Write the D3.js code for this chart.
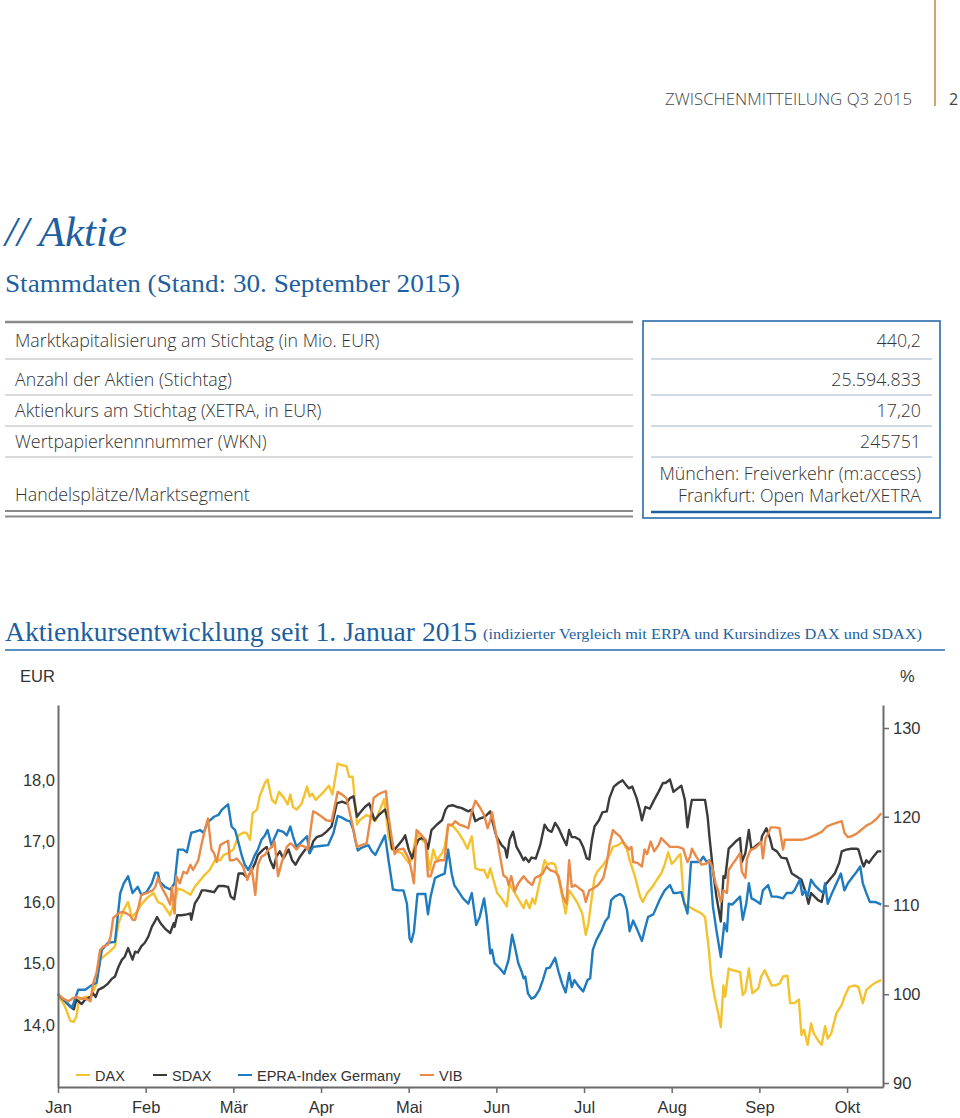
<!DOCTYPE html>
<html><head><meta charset="utf-8">
<script src="https://cdn.jsdelivr.net/npm/d3@7"></script>
<style>
html,body{margin:0;padding:0;background:#fff;}
svg{display:block;}
</style></head>
<body>
<svg id="c" width="960" height="1118"></svg>
<script>
// ---------- DATA ----------
const headerText = "ZWISCHENMITTEILUNG Q3 2015";
const pageNumber = "2";
const tableLabels = ["Marktkapitalisierung am Stichtag (in Mio. EUR)","Anzahl der Aktien (Stichtag)","Aktienkurs am Stichtag (XETRA, in EUR)","Wertpapierkennnummer (WKN)","Handelsplätze/Marktsegment"];
const tableValues = [["440,2"],["25.594.833"],["17,20"],["245751"],["München: Freiverkehr (m:access)","Frankfurt: Open Market/XETRA"]];
const months = ["Jan","Feb","Mär","Apr","Mai","Jun","Jul","Aug","Sep","Okt"];
const eurTicks = [14,15,16,17,18];
const pctTicks = [90,100,110,120,130];
const vibBaseEUR = 14.5;         // VIB price on 1 Jan 2015 (=100 %)
const xEnd = 9.41;               // last month position shown
const seriesNames = ["DAX","SDAX","EPRA-Index Germany","VIB"];

// [month position, indexed value %]
const daxData = [[0,100],[0.08,98.6],[0.14,97.0],[0.18,96.9],[0.21,97.5],[0.24,99.4],[0.31,99.7],[0.37,99.7],[0.41,100.5],[0.44,101.2],[0.48,103.9],[0.54,104.4],[0.59,104.8],[0.65,105.4],[0.69,108.0],[0.75,109.5],[0.80,110.4],[0.84,108.7],[0.90,109.3],[0.95,110.1],[1.01,110.8],[1.09,111.4],[1.14,110.4],[1.20,110.1],[1.28,108.9],[1.33,110.6],[1.37,111.9],[1.43,111.7],[1.51,111.2],[1.56,112.1],[1.66,113.3],[1.73,114.0],[1.79,115.1],[1.85,115.1],[1.89,115.7],[1.94,115.9],[2.00,116.3],[2.06,117.9],[2.11,118.2],[2.15,118.2],[2.19,117.4],[2.22,120.4],[2.27,120.8],[2.30,122.3],[2.36,123.8],[2.39,124.2],[2.44,121.9],[2.48,121.5],[2.52,122.8],[2.58,122.1],[2.62,121.4],[2.65,122.5],[2.68,121.1],[2.72,120.8],[2.78,121.5],[2.84,123.4],[2.87,122.3],[2.90,122.6],[2.94,121.9],[3.03,122.8],[3.09,123.5],[3.13,122.5],[3.19,126.0],[3.24,125.8],[3.29,125.7],[3.32,124.5],[3.36,124.5],[3.38,122.6],[3.41,119.1],[3.44,119.6],[3.52,120.2],[3.56,120.0],[3.62,119.5],[3.72,122.0],[3.77,117.8],[3.81,116.3],[3.92,115.9],[4.00,114.8],[4.03,115.1],[4.09,118.1],[4.15,117.4],[4.20,117.0],[4.24,114.0],[4.28,116.3],[4.32,115.1],[4.38,115.9],[4.41,116.6],[4.45,119.1],[4.51,118.9],[4.56,118.3],[4.62,117.4],[4.67,116.4],[4.72,117.8],[4.76,114.2],[4.81,114.0],[4.86,114.0],[4.90,113.1],[4.93,114.2],[4.96,113.1],[5.01,111.4],[5.06,110.8],[5.12,109.9],[5.15,112.5],[5.21,111.4],[5.27,110.4],[5.31,109.7],[5.34,110.6],[5.38,109.7],[5.41,110.8],[5.44,110.2],[5.50,112.9],[5.55,115.1],[5.58,114.6],[5.63,114.8],[5.67,114.6],[5.72,112.5],[5.76,110.6],[5.79,109.1],[5.83,111.7],[5.88,111.0],[5.93,110.2],[5.98,109.1],[6.02,106.7],[6.05,108.0],[6.09,111.0],[6.12,113.1],[6.15,113.8],[6.22,114.6],[6.28,115.5],[6.33,116.6],[6.39,116.8],[6.44,117.2],[6.49,116.3],[6.52,115.1],[6.58,113.3],[6.64,111.0],[6.67,110.4],[6.72,111.4],[6.78,112.1],[6.83,112.9],[6.88,113.6],[6.92,114.6],[6.96,116.0],[7.00,114.7],[7.04,115.1],[7.07,115.5],[7.10,115.8],[7.14,110.2],[7.19,109.9],[7.26,109.5],[7.34,109.1],[7.38,108.7],[7.42,105.4],[7.45,102.0],[7.49,99.7],[7.53,97.9],[7.56,96.3],[7.59,101.0],[7.61,99.7],[7.65,102.9],[7.70,102.7],[7.78,102.5],[7.81,99.9],[7.84,100.3],[7.88,102.9],[7.92,100.1],[7.99,100.7],[8.02,102.0],[8.06,102.7],[8.14,101.0],[8.18,101.0],[8.23,101.2],[8.27,102.0],[8.32,102.1],[8.35,99.0],[8.40,99.0],[8.45,99.4],[8.48,95.4],[8.51,96.0],[8.55,94.3],[8.59,96.7],[8.62,95.6],[8.67,94.8],[8.71,94.3],[8.75,96.4],[8.78,95.0],[8.82,95.6],[8.88,97.9],[8.94,98.8],[8.97,99.7],[9.02,100.8],[9.09,101.0],[9.13,100.8],[9.18,99.0],[9.22,100.5],[9.28,101.0],[9.34,101.4],[9.39,101.6]];

const sdaxData = [[0,100],[0.14,98.6],[0.18,98.3],[0.21,99.4],[0.27,98.9],[0.31,99.4],[0.37,99.7],[0.40,100.1],[0.43,99.7],[0.46,100.5],[0.52,100.8],[0.57,101.2],[0.61,101.7],[0.65,102.0],[0.69,103.1],[0.73,103.9],[0.76,104.2],[0.80,105.2],[0.83,104.4],[0.85,103.9],[0.88,104.8],[0.91,104.7],[0.95,105.4],[0.99,105.8],[1.03,106.5],[1.07,107.6],[1.11,108.3],[1.13,108.7],[1.17,108.0],[1.22,107.4],[1.28,106.9],[1.32,108.0],[1.33,107.6],[1.36,108.9],[1.41,108.9],[1.47,109.0],[1.51,109.1],[1.52,108.4],[1.56,110.2],[1.61,111.0],[1.64,111.7],[1.68,111.7],[1.73,111.6],[1.78,111.5],[1.83,112.2],[1.89,112.2],[1.94,112.1],[1.97,111.0],[2.01,110.7],[2.06,113.6],[2.11,113.6],[2.16,113.1],[2.21,114.0],[2.25,114.8],[2.28,115.7],[2.34,116.3],[2.38,116.6],[2.42,115.1],[2.46,114.2],[2.49,115.5],[2.53,116.1],[2.57,115.3],[2.63,116.3],[2.67,115.1],[2.71,114.6],[2.76,115.5],[2.82,116.3],[2.85,116.6],[2.87,115.9],[2.91,117.2],[2.95,117.7],[3.01,117.9],[3.06,118.3],[3.12,118.9],[3.18,121.5],[3.24,121.7],[3.29,121.5],[3.33,122.1],[3.37,122.3],[3.41,120.0],[3.44,120.4],[3.50,121.1],[3.55,121.5],[3.61,119.6],[3.66,120.2],[3.73,120.8],[3.77,119.5],[3.81,116.4],[3.84,116.3],[3.88,116.8],[3.93,117.4],[3.96,117.9],[4.00,116.3],[4.04,115.3],[4.07,116.4],[4.11,117.4],[4.15,117.6],[4.19,117.4],[4.22,116.4],[4.26,118.5],[4.32,119.1],[4.38,119.6],[4.42,120.8],[4.45,121.2],[4.50,121.3],[4.55,121.1],[4.60,121.0],[4.64,120.8],[4.68,120.6],[4.72,120.8],[4.76,119.5],[4.81,119.8],[4.87,120.0],[4.93,120.6],[4.96,119.3],[5.00,117.8],[5.06,116.8],[5.10,116.4],[5.12,115.4],[5.15,117.4],[5.19,118.3],[5.23,116.6],[5.27,115.9],[5.31,115.1],[5.33,115.4],[5.37,114.9],[5.40,115.4],[5.45,115.3],[5.50,116.8],[5.55,119.1],[5.59,118.5],[5.63,118.3],[5.67,119.3],[5.71,118.7],[5.76,117.6],[5.80,116.8],[5.83,118.5],[5.86,117.7],[5.90,117.7],[5.95,117.4],[5.99,116.6],[6.03,115.3],[6.06,115.2],[6.09,117.4],[6.12,118.9],[6.17,119.6],[6.21,120.5],[6.26,120.6],[6.29,122.1],[6.34,123.4],[6.39,123.8],[6.44,124.1],[6.47,123.7],[6.51,123.2],[6.55,123.4],[6.60,122.1],[6.64,120.6],[6.66,119.6],[6.70,121.1],[6.75,120.9],[6.80,121.9],[6.85,122.8],[6.90,123.8],[6.93,123.8],[6.98,124.2],[7.02,122.8],[7.07,123.2],[7.11,123.5],[7.15,121.9],[7.18,118.8],[7.21,120.8],[7.23,121.9],[7.28,121.9],[7.38,121.9],[7.41,120.0],[7.43,117.8],[7.47,114.0],[7.51,111.0],[7.56,108.2],[7.59,113.3],[7.61,113.1],[7.65,116.4],[7.69,116.8],[7.74,117.3],[7.78,117.6],[7.80,114.9],[7.84,115.9],[7.88,118.5],[7.91,116.3],[7.97,116.8],[8.02,117.2],[8.03,117.8],[8.08,118.7],[8.12,117.6],[8.15,116.4],[8.20,116.1],[8.25,115.4],[8.31,115.3],[8.37,113.6],[8.42,113.3],[8.48,112.9],[8.53,111.4],[8.56,110.2],[8.59,111.4],[8.63,111.0],[8.67,110.6],[8.71,110.4],[8.75,112.3],[8.80,112.9],[8.86,113.6],[8.91,114.8],[8.94,116.1],[8.99,116.3],[9.05,116.4],[9.11,116.4],[9.13,116.3],[9.17,114.9],[9.19,114.4],[9.22,115.1],[9.25,114.8],[9.30,115.5],[9.35,116.1],[9.39,116.1]];

const epraData = [[0,100],[0.16,98.5],[0.23,100.5],[0.31,100.5],[0.38,101.0],[0.44,101.3],[0.50,105.0],[0.57,105.8],[0.65,105.9],[0.71,111.4],[0.75,112.5],[0.80,113.3],[0.85,111.4],[0.91,112.1],[0.95,111.2],[1.01,111.5],[1.07,112.5],[1.11,113.7],[1.14,113.7],[1.16,112.7],[1.22,112.1],[1.28,111.8],[1.33,112.5],[1.37,116.3],[1.43,116.3],[1.47,116.0],[1.52,118.2],[1.56,118.3],[1.62,118.5],[1.66,118.2],[1.71,119.4],[1.78,120.0],[1.83,120.2],[1.87,120.8],[1.94,121.4],[1.98,118.9],[2.02,118.5],[2.05,117.4],[2.10,115.5],[2.13,114.6],[2.17,114.0],[2.21,114.8],[2.24,115.6],[2.28,116.3],[2.32,117.4],[2.36,117.9],[2.39,118.5],[2.44,116.6],[2.46,117.4],[2.51,118.5],[2.57,118.3],[2.61,117.9],[2.65,118.9],[2.68,117.8],[2.72,116.6],[2.78,117.2],[2.84,117.8],[2.87,115.9],[2.91,116.6],[2.99,116.7],[3.08,116.8],[3.14,118.1],[3.19,120.1],[3.24,119.9],[3.29,119.6],[3.33,119.5],[3.37,118.5],[3.39,117.4],[3.42,116.2],[3.46,116.5],[3.54,116.8],[3.58,116.1],[3.62,115.7],[3.65,116.3],[3.73,117.9],[3.77,115.1],[3.81,112.5],[3.82,111.8],[3.88,111.7],[3.94,111.7],[3.98,110.2],[4.01,106.3],[4.03,105.9],[4.06,107.1],[4.10,111.3],[4.15,111.3],[4.19,111.3],[4.22,109.0],[4.25,111.0],[4.30,113.1],[4.36,113.4],[4.41,113.6],[4.45,116.3],[4.49,113.6],[4.52,112.3],[4.56,111.7],[4.62,110.8],[4.68,110.2],[4.72,111.4],[4.77,107.8],[4.81,108.7],[4.86,110.8],[4.89,108.7],[4.93,104.6],[4.95,105.0],[4.98,103.5],[5.04,102.9],[5.09,102.3],[5.14,103.9],[5.18,106.7],[5.21,105.4],[5.25,103.5],[5.29,102.5],[5.31,101.8],[5.33,102.0],[5.36,100.1],[5.40,99.5],[5.44,99.7],[5.49,100.5],[5.53,101.6],[5.57,102.9],[5.61,103.0],[5.67,104.1],[5.71,102.5],[5.75,101.2],[5.79,100.2],[5.83,102.4],[5.86,100.8],[5.89,101.6],[5.93,101.0],[5.99,100.3],[6.04,101.6],[6.07,101.8],[6.10,105.0],[6.14,106.1],[6.20,107.2],[6.24,108.2],[6.28,108.7],[6.31,110.6],[6.35,111.0],[6.41,111.3],[6.45,111.0],[6.49,109.5],[6.52,107.1],[6.56,108.3],[6.61,107.2],[6.66,106.0],[6.69,107.2],[6.73,108.7],[6.79,109.0],[6.83,109.9],[6.86,110.6],[6.92,111.7],[6.98,112.3],[7.02,111.4],[7.05,111.4],[7.11,111.5],[7.14,110.4],[7.18,109.1],[7.22,114.9],[7.26,114.9],[7.32,114.9],[7.36,115.5],[7.40,114.9],[7.43,115.1],[7.47,109.9],[7.51,107.2],[7.56,104.2],[7.60,108.0],[7.63,107.1],[7.65,110.2],[7.69,110.1],[7.74,110.6],[7.78,111.0],[7.81,108.4],[7.85,110.2],[7.88,112.5],[7.91,110.8],[7.95,110.6],[8.01,110.2],[8.04,111.7],[8.10,112.3],[8.14,111.0],[8.20,111.0],[8.27,110.8],[8.31,111.4],[8.37,111.4],[8.40,111.7],[8.46,112.9],[8.49,111.2],[8.52,111.7],[8.55,111.0],[8.59,112.9],[8.63,112.3],[8.69,111.7],[8.73,111.4],[8.75,112.5],[8.78,110.2],[8.82,111.2],[8.88,112.5],[8.93,113.6],[8.97,111.7],[9.01,112.5],[9.07,113.3],[9.11,113.8],[9.15,114.4],[9.18,112.5],[9.22,111.4],[9.26,110.4],[9.32,110.4],[9.39,110.1]];

const vibData = [[0,100],[0.06,99.5],[0.12,99.2],[0.16,99.5],[0.21,99.7],[0.27,99.5],[0.33,99.5],[0.37,99.2],[0.40,101.2],[0.44,102.4],[0.48,105.0],[0.52,105.4],[0.57,105.6],[0.60,106.5],[0.63,108.6],[0.69,109.1],[0.73,109.3],[0.78,109.1],[0.82,108.9],[0.85,108.4],[0.88,108.4],[0.92,109.9],[0.95,111.2],[1.01,111.4],[1.08,111.7],[1.11,112.1],[1.14,113.1],[1.18,112.1],[1.24,111.0],[1.28,110.1],[1.30,112.1],[1.33,109.1],[1.35,113.3],[1.39,112.5],[1.43,113.8],[1.47,113.6],[1.51,114.6],[1.54,114.0],[1.60,115.1],[1.64,117.0],[1.68,118.7],[1.71,119.8],[1.75,116.3],[1.78,115.9],[1.81,114.9],[1.85,116.8],[1.90,117.1],[1.94,117.3],[1.96,115.1],[2.00,115.1],[2.04,115.3],[2.08,114.8],[2.11,114.4],[2.16,112.9],[2.21,114.2],[2.25,111.2],[2.28,114.6],[2.32,115.5],[2.36,115.7],[2.40,116.3],[2.44,116.6],[2.47,117.2],[2.51,113.3],[2.55,114.8],[2.61,116.6],[2.65,117.0],[2.68,116.8],[2.72,116.3],[2.76,116.8],[2.82,116.6],[2.85,116.3],[2.91,120.6],[2.95,120.4],[3.01,120.0],[3.06,119.6],[3.12,119.5],[3.19,122.8],[3.24,122.5],[3.29,122.1],[3.35,119.5],[3.41,116.6],[3.46,116.8],[3.52,117.0],[3.56,119.5],[3.60,122.1],[3.65,122.5],[3.69,122.7],[3.74,122.9],[3.77,120.0],[3.81,117.4],[3.84,115.8],[3.88,116.3],[3.94,116.4],[4.00,115.3],[4.03,114.0],[4.06,112.5],[4.09,118.5],[4.15,117.9],[4.19,117.4],[4.22,113.3],[4.25,113.3],[4.30,114.9],[4.36,115.1],[4.41,115.1],[4.45,119.1],[4.50,119.1],[4.53,119.5],[4.58,119.1],[4.64,118.9],[4.68,118.7],[4.72,120.6],[4.76,121.8],[4.81,121.1],[4.86,120.2],[4.90,118.7],[4.93,119.6],[4.95,120.5],[4.98,118.9],[5.02,116.8],[5.08,113.4],[5.12,113.1],[5.14,112.3],[5.17,113.3],[5.21,111.6],[5.25,112.5],[5.31,113.3],[5.36,112.7],[5.41,112.3],[5.44,113.1],[5.50,113.4],[5.53,113.6],[5.57,114.4],[5.61,114.0],[5.67,113.8],[5.71,113.3],[5.76,111.0],[5.80,110.2],[5.83,115.1],[5.86,112.1],[5.90,112.3],[5.95,111.9],[5.99,111.6],[6.02,110.4],[6.06,111.7],[6.10,111.9],[6.16,112.3],[6.22,113.1],[6.26,114.8],[6.29,116.8],[6.33,118.5],[6.37,118.1],[6.41,117.8],[6.45,117.1],[6.49,116.6],[6.51,116.3],[6.54,116.6],[6.56,114.9],[6.61,114.8],[6.66,114.4],[6.69,116.3],[6.72,115.8],[6.76,117.2],[6.80,116.1],[6.85,116.8],[6.88,117.6],[6.92,117.2],[6.98,116.6],[7.02,116.6],[7.07,116.6],[7.13,116.4],[7.18,114.9],[7.21,115.5],[7.23,116.4],[7.28,115.5],[7.34,114.6],[7.39,114.7],[7.43,115.1],[7.46,114.4],[7.50,112.5],[7.53,111.7],[7.56,110.4],[7.59,111.7],[7.63,111.4],[7.65,114.0],[7.69,114.6],[7.74,115.3],[7.78,115.9],[7.80,113.8],[7.84,113.1],[7.86,115.3],[7.90,116.3],[7.94,116.4],[7.99,116.8],[8.02,117.2],[8.04,115.3],[8.07,117.6],[8.10,118.1],[8.13,118.8],[8.18,118.8],[8.23,118.7],[8.27,116.3],[8.29,117.4],[8.40,117.4],[8.48,117.4],[8.56,117.6],[8.63,117.9],[8.71,118.3],[8.77,118.9],[8.82,119.1],[8.88,119.3],[8.94,119.5],[8.97,118.2],[9.01,117.7],[9.05,117.8],[9.11,118.1],[9.16,118.5],[9.22,119.0],[9.28,119.3],[9.34,119.8],[9.39,120.4]];

// ---------- STYLE ----------
const BLUE = "#1d5fa0";
const TXT = "#333";
const colors = {"DAX":"#f4c22f","SDAX":"#3b3b3b","EPRA-Index Germany":"#1f7bbf","VIB":"#e98a49"};
const sans = "'Open Sans','Noto Sans',sans-serif";
const chartFont = "'Liberation Sans',Arial,sans-serif";
const serif = "'Liberation Serif','Times New Roman',serif";

const svg = d3.select("#c");

// header
svg.append("line").attr("x1",935).attr("x2",935).attr("y1",0).attr("y2",106)
  .attr("stroke","#d9a36c").attr("stroke-width",2);
svg.append("text").attr("x",912).attr("y",105).attr("text-anchor","end")
  .attr("font-family",sans).attr("font-weight",300).attr("font-size",16).attr("fill","#444")
  .attr("textLength",247).attr("lengthAdjust","spacingAndGlyphs").text(headerText);
svg.append("text").attr("x",949).attr("y",105).attr("font-family",sans).attr("font-size",16)
  .attr("fill","#444").text(pageNumber);

// titles
svg.append("text").attr("x",5).attr("y",246).attr("font-family",serif).attr("font-style","italic")
  .attr("font-size",42).attr("fill",BLUE).attr("textLength",122).attr("lengthAdjust","spacingAndGlyphs").text("// Aktie");
svg.append("text").attr("x",5).attr("y",292).attr("font-family",serif).attr("font-size",26)
  .attr("fill",BLUE).attr("textLength",455).attr("lengthAdjust","spacingAndGlyphs").text("Stammdaten (Stand: 30. September 2015)");

// table
const rowSeps = [359,395,426,457];
svg.append("line").attr("x1",5).attr("x2",633).attr("y1",322).attr("y2",322).attr("stroke","#8a8a8a").attr("stroke-width",2.5);
rowSeps.forEach(yy=>{
  svg.append("line").attr("x1",5).attr("x2",633).attr("y1",yy).attr("y2",yy).attr("stroke","#b5b5b5").attr("stroke-width",1.2);
  svg.append("line").attr("x1",651).attr("x2",932).attr("y1",yy).attr("y2",yy).attr("stroke","#9db5cc").attr("stroke-width",1.2);
});
svg.append("line").attr("x1",5).attr("x2",633).attr("y1",511).attr("y2",511).attr("stroke","#8a8a8a").attr("stroke-width",1.8);
svg.append("line").attr("x1",5).attr("x2",633).attr("y1",516.5).attr("y2",516.5).attr("stroke","#8a8a8a").attr("stroke-width",1.8);
svg.append("rect").attr("x",643).attr("y",321).attr("width",297).attr("height",197)
  .attr("fill","none").attr("stroke","#2a6aab").attr("stroke-width",1.6);
svg.append("line").attr("x1",651).attr("x2",932).attr("y1",512).attr("y2",512).attr("stroke",BLUE).attr("stroke-width",2.5);

const rowBase = [347,386,417,448,501];
tableLabels.forEach((t,i)=>{
  svg.append("text").attr("x",15).attr("y",rowBase[i]).attr("font-family",sans).attr("font-weight",300)
    .attr("font-size",17.8).attr("fill",TXT).text(t);
});
tableValues.forEach((vals,i)=>{
  vals.forEach((v,j)=>{
    const yy = vals.length>1 ? [480,502][j] : rowBase[i];
    svg.append("text").attr("x",921).attr("y",yy).attr("text-anchor","end").attr("font-family",sans)
      .attr("font-weight",300).attr("font-size",17.8).attr("fill",TXT).text(v);
  });
});

// chart title
svg.append("text").attr("x",5).attr("y",641).attr("font-family",serif).attr("fill",BLUE)
  .attr("font-size",27).attr("textLength",472).attr("lengthAdjust","spacingAndGlyphs").text("Aktienkursentwicklung seit 1. Januar 2015");
svg.append("text").attr("x",483).attr("y",639).attr("font-family",serif).attr("fill",BLUE).attr("font-size",15)
  .attr("textLength",439).attr("lengthAdjust","spacingAndGlyphs").text("(indizierter Vergleich mit ERPA und Kursindizes DAX und SDAX)");
svg.append("line").attr("x1",5).attr("x2",945).attr("y1",650).attr("y2",650).attr("stroke","#2a6aab").attr("stroke-width",1.6);

svg.append("text").attr("x",20).attr("y",682).attr("font-family",chartFont).attr("font-size",16.5).attr("fill",TXT).text("EUR");
svg.append("text").attr("x",900).attr("y",682).attr("font-family",chartFont).attr("font-size",16.5).attr("fill",TXT).text("%");

// ---------- CHART ----------
const L = 58, R = 883, T = 705, B = 1087;
const yMin = 89.55, yMax = 132.59;
const x = d3.scaleLinear().domain([0,xEnd]).range([L,R]);
const y = d3.scaleLinear().domain([yMin,yMax]).range([B,T]);
const yEur = d3.scaleLinear().domain([yMin*vibBaseEUR/100, yMax*vibBaseEUR/100]).range([B,T]);

const line = d3.line().x(d=>x(d[0])).y(d=>y(d[1]));
const series = [["DAX",daxData],["SDAX",sdaxData],["EPRA-Index Germany",epraData],["VIB",vibData]];
const gLines = svg.append("g");
series.forEach(([name,data])=>{
  gLines.append("path").datum(data).attr("d",line).attr("fill","none")
    .attr("stroke",colors[name]).attr("stroke-width",2.4).attr("stroke-linejoin","round");
});

function styleAxis(g){
  g.select(".domain").attr("stroke","#6b6b6b").attr("stroke-width",2);
  g.selectAll(".tick line").attr("stroke","#6b6b6b").attr("stroke-width",1.5);
  g.selectAll("text").attr("font-family",chartFont).attr("font-size",16.5).attr("fill",TXT);
}
const gx = svg.append("g").attr("transform",`translate(0,${B})`)
  .call(d3.axisBottom(x).tickValues(d3.range(months.length)).tickFormat(i=>months[i]).tickSize(6).tickSizeOuter(0).tickPadding(8));
styleAxis(gx);
const gl = svg.append("g").attr("transform",`translate(${L},0)`)
  .call(d3.axisLeft(yEur).tickValues(eurTicks).tickFormat(d=>d.toFixed(1).replace(".",",")).tickSize(0).tickSizeOuter(0).tickPadding(3));
styleAxis(gl);
const gr = svg.append("g").attr("transform",`translate(${R},0)`)
  .call(d3.axisRight(y).tickValues(pctTicks).tickSize(6).tickSizeOuter(0).tickPadding(4));
styleAxis(gr);

// legend
const legX = [76,153,238,420];
seriesNames.forEach((n,i)=>{
  svg.append("line").attr("x1",legX[i]).attr("x2",legX[i]+14).attr("y1",1075).attr("y2",1075)
    .attr("stroke",colors[n]).attr("stroke-width",2);
  svg.append("text").attr("x",legX[i]+19).attr("y",1080.5).attr("font-family",chartFont).attr("font-size",14.5)
    .attr("fill",TXT).text(n);
});
</script>
</body></html>
